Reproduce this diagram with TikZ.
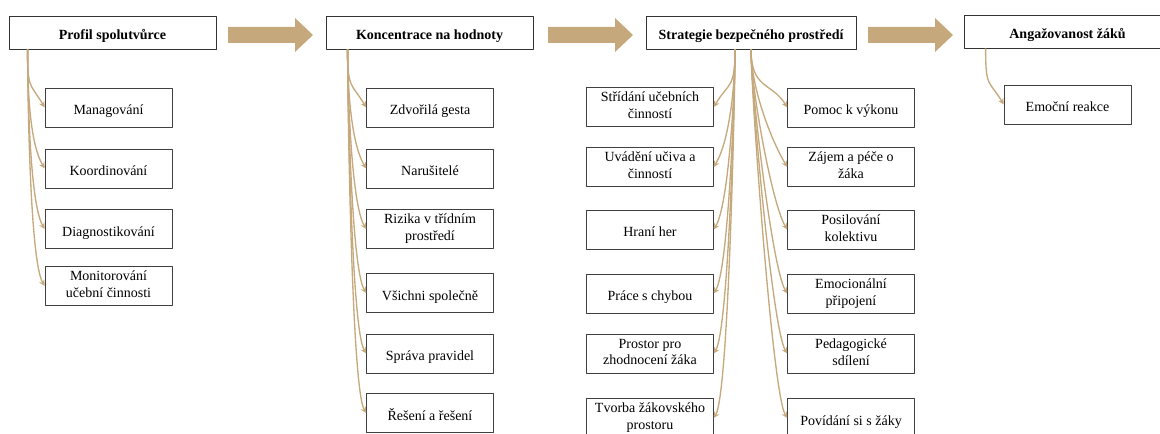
\documentclass[tikz,border=0pt]{standalone}
\usepackage{fontspec}
\setmainfont{Liberation Serif}
\definecolor{arrowtan}{RGB}{197,169,124}
\begin{document}
\begin{tikzpicture}[line join=round, >=stealth, x=0.75pt, y=-0.75pt,
            box/.style={draw=black!75, thin, fill=white, minimum width=95.25pt, minimum height=29.25pt,
                align=center, inner sep=1pt, execute at begin node=\rule[-2.5pt]{0pt}{16pt},
                font=\fontsize{10.5}{12.5}\selectfont},
            headbox/.style={box, draw=black!80, line width=0.6pt, minimum width=155.25pt, minimum height=24.75pt,
                font=\fontsize{10.5}{12.5}\selectfont\bfseries},
            link/.style={->, draw=arrowtan, line width=1pt},
            flow/.style={fill=arrowtan}
            ]
            \useasboundingbox (0,0) rectangle (1160,434);
            \clip (0,0) rectangle (1160,434);
            %Hlavni bloky
            \node[headbox] (prof) at (112.5,32.5) {Profil spolutvůrce};
            \node[headbox] (konc) at (429.5,32.5) {Koncentrace na hodnoty};
            \node[headbox, minimum width=157.5pt] (strat) at (751,32.5) {Strategie bezpečného prostředí};
            \node[headbox] (anga) at (1067.5,31.5) {Angažovanost žáků};
            \foreach \x in {228,548,868}
            \fill[flow] (\x,27) -- ++(67,0) -- ++(0,-9) -- ++(18,17) -- ++(-18,17) -- ++(0,-9) -- ++(-67,0) -- cycle;
            %Profil spolutvurce
            \node[box] (man) at (108.5,107.5) {Managování};
            \node[box] (koo) at (108.5,168.5) {Koordinování};
            \node[box] (dia) at (108.5,229) {Diagnostikování};
            \node[box] (mon) at (108.5,286) {Monitorování\\učební činnosti};
            %Koncentrace na hodnoty
            \node[box] (zdv) at (430,107.5) {Zdvořilá gesta};
            \node[box] (nar) at (430,168.5) {Narušitelé};
            \node[box] (riz) at (430,229) {Rizika v třídním\\prostředí};
            \node[box] (vsi) at (430,293) {Všichni společně};
            \node[box] (spr) at (430,353.5) {Správa pravidel};
            \node[box] (res) at (430,413) {Řešení a řešení};
            %Strategie bezpecneho prostredi
            \node[box] (str) at (650,107) {Střídání učebních\\činností};
            \node[box] (uva) at (650,167) {Uvádění učiva a\\činností};
            \node[box] (hra) at (650,229.5) {Hraní her};
            \node[box] (pra) at (650,293.5) {Práce s chybou};
            \node[box] (pro) at (650,353.5) {Prostor pro\\zhodnocení žáka};
            \node[box] (tvo) at (650,418) {Tvorba žákovského\\prostoru};
            \node[box] (pom) at (851,107.5) {Pomoc k výkonu};
            \node[box] (zaj) at (851,167) {Zájem a péče o\\žáka};
            \node[box] (pos) at (851,229.5) {Posilování\\kolektivu};
            \node[box] (emo) at (851,293.5) {Emocionální\\připojení};
            \node[box] (ped) at (851,353.5) {Pedagogické\\sdílení};
            \node[box] (pov) at (851,418) {Povídání si s žáky};
            %Angazovanost
            \node[box] (emr) at (1067.5,104.5) {Emoční reakce};
            \path
            (prof.south west) ++(19,0) coordinate (prof-s)
            (konc.south west) ++(22,0) coordinate (konc-s)
            (strat.south) ++(-16,0) coordinate (strat-l)
            (strat.south) coordinate (strat-r)
            (anga.south west) ++(22,0) coordinate (anga-s);
            \foreach \c in {man,koo,dia,mon}
            \draw[link] (prof-s) .. controls +(0,40) and +(-15,-25) .. (\c.west);
            \foreach \c in {zdv,nar,riz,vsi,spr,res}
            \draw[link] (konc-s) .. controls +(0,40) and +(-15,-25) .. (\c.west);
            \foreach \c in {str,uva,hra,pra,pro,tvo}
            \draw[link] (strat-l) .. controls +(0,40) and +(15,-25) .. (\c.east);
            \foreach \c in {pom,zaj,pos,emo,ped,pov}
            \draw[link] (strat-r) .. controls +(0,40) and +(-15,-25) .. (\c.west);
            \draw[link] (anga-s) .. controls +(0,40) and +(-15,-25) .. (emr.west);
        \end{tikzpicture}
\end{document}
